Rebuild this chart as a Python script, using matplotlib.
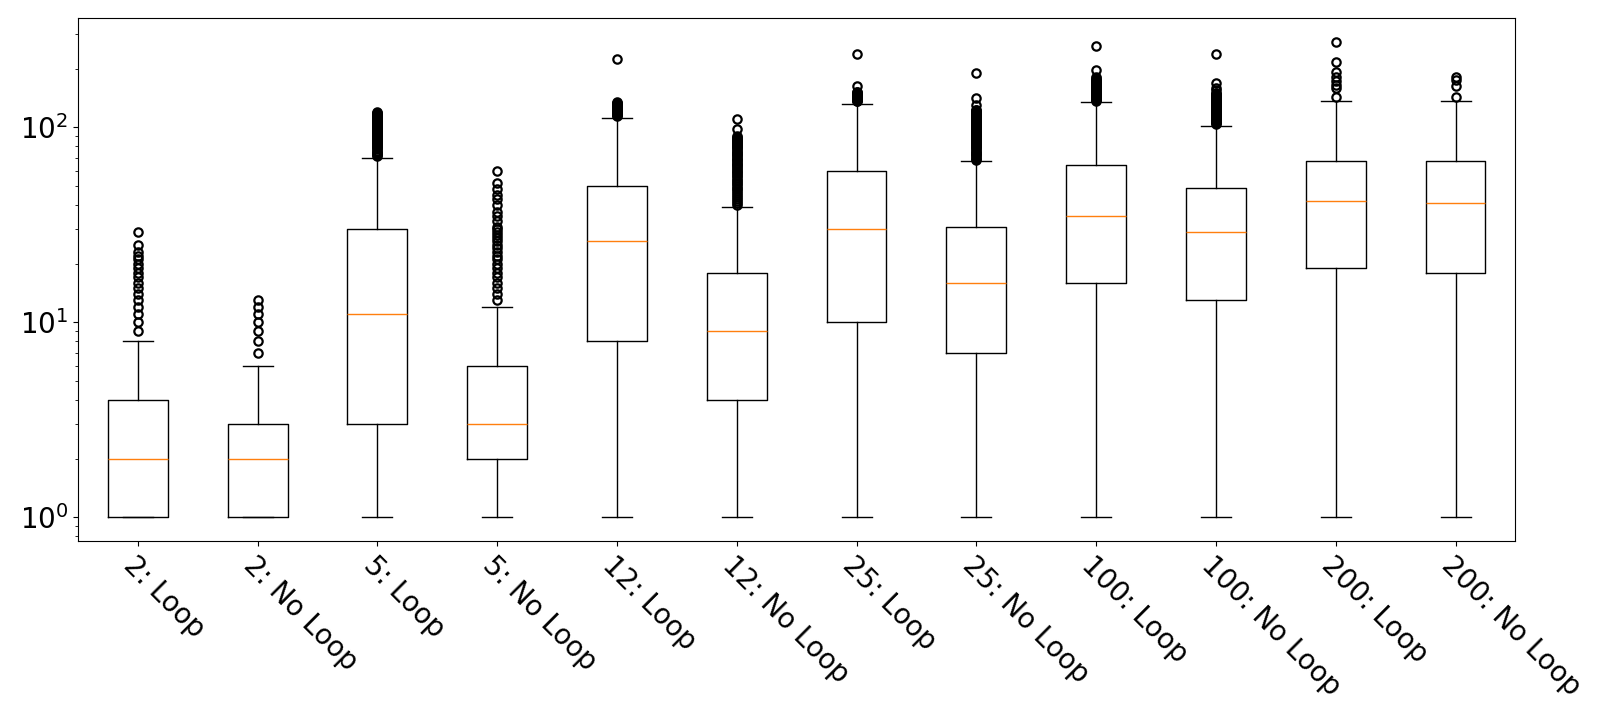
import matplotlib
matplotlib.use("Agg")
import matplotlib.pyplot as plt

labels = ["2: Loop", "2: No Loop", "5: Loop", "5: No Loop", "12: Loop", "12: No Loop",
          "25: Loop", "25: No Loop", "100: Loop", "100: No Loop", "200: Loop", "200: No Loop"]

whislo = [1, 1, 1, 1, 1, 1, 1, 1, 1, 1, 1, 1]
q1 = [1, 1, 3, 2, 8, 4, 10, 7, 16, 13, 19, 18]
med = [2, 2, 11, 3, 26, 9, 30, 16, 35, 29, 42, 41]
q3 = [4, 3, 30, 6, 50, 18, 60, 31, 64, 49, 67, 67]
whishi = [8, 6, 70, 12, 112, 39, 131, 67, 135, 102, 137, 137]

fliers = [
    list(range(9, 24)) + [25, 29],
    list(range(7, 14)),
    list(range(71, 121)),
    list(range(13, 32)) + [33, 35, 37, 40, 43, 45, 48, 52, 60],
    list(range(114, 136)) + [223],
    list(range(40, 91)) + [98, 110],
    list(range(136, 153)) + [162, 237],
    list(range(68, 124)) + [130, 141, 189],
    list(range(137, 176)) + [178, 182, 197, 261],
    list(range(104, 151)) + [155, 160, 168, 237],
    [143, 160, 165, 172, 182, 193, 215, 273],
    [143, 163, 175, 182],
]

stats = []
for i in range(len(labels)):
    stats.append(dict(label=labels[i], whislo=whislo[i], q1=q1[i], med=med[i],
                      q3=q3[i], whishi=whishi[i], fliers=fliers[i]))

fig = plt.figure(figsize=(16.12, 7.17), dpi=100)
ax = fig.add_axes([0.0483, 0.2453, 0.9401 - 0.0483, 0.9742 - 0.2453])
ax.set_yscale("log")
ax.bxp(stats, flierprops=dict(marker="o", markerfacecolor="none",
                              markeredgecolor="black", markeredgewidth=1.6))
ax.tick_params(axis="y", labelsize=20)
ax.tick_params(axis="x", labelsize=20)
plt.setp(ax.get_xticklabels(), rotation=-45, ha="left", rotation_mode="anchor")
fig.savefig("out.png", dpi=100)
